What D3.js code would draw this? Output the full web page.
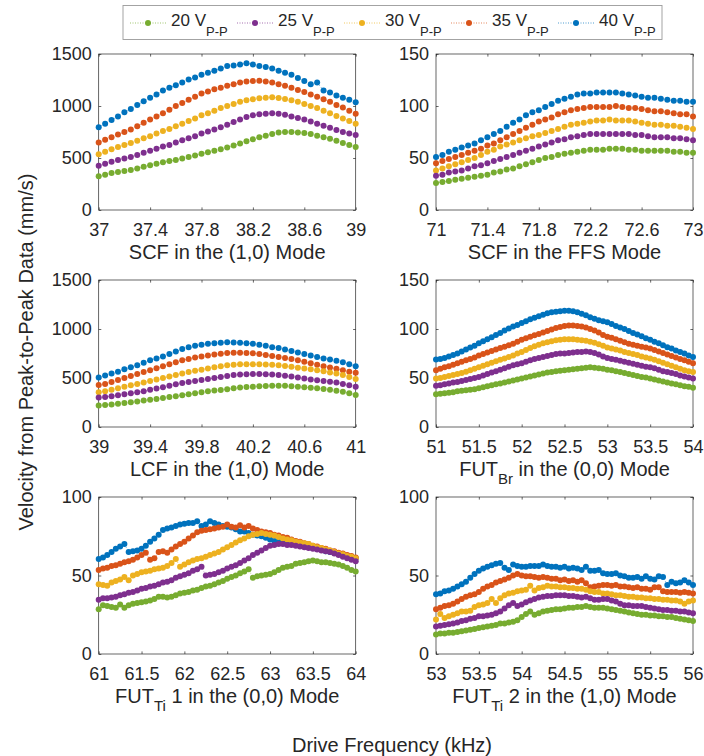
<!DOCTYPE html>
<html>
<head>
<meta charset="utf-8">
<script src="https://cdn.jsdelivr.net/npm/d3@7"></script>
<style>
  body { margin: 0; background: #fff; }
  svg { display: block; }
  text { font-family: "Liberation Sans", Arial, sans-serif; fill: #262626; }
</style>
</head>
<body>
<svg id="svg"></svg>
<script>
// drive voltages and matlab default colours (20 -> 40 Vp-p)
var voltages = ["20", "25", "30", "35", "40"];
var colors = ["#77AC30", "#7E2F8E", "#EDB120", "#D95319", "#0072BD"];

// SCF in the (1,0) mode, 37 -> 39 kHz, 0.05 kHz steps
var scf10_20 = [325, 340, 355, 365, 375, 385, 400, 415, 430, 445, 460, 470, 480, 495, 510, 525, 540, 555, 570, 585, 600, 620, 640, 660, 680, 700, 715, 730, 745, 750, 750, 745, 740, 730, 715, 700, 685, 665, 645, 625, 605];
var scf10_25 = [425, 445, 465, 480, 495, 510, 530, 550, 570, 590, 610, 625, 650, 670, 690, 710, 735, 755, 775, 795, 820, 845, 870, 895, 910, 920, 925, 930, 925, 915, 900, 885, 870, 850, 830, 810, 790, 770, 750, 735, 720];
var scf10_30 = [535, 560, 585, 605, 625, 645, 665, 690, 710, 735, 760, 780, 805, 830, 855, 880, 910, 930, 955, 980, 1000, 1020, 1040, 1055, 1065, 1075, 1080, 1085, 1078, 1068, 1055, 1040, 1020, 1000, 980, 955, 930, 905, 880, 855, 830];
var scf10_35 = [650, 675, 700, 725, 750, 775, 805, 840, 870, 900, 930, 965, 1000, 1030, 1060, 1090, 1120, 1140, 1160, 1175, 1195, 1210, 1225, 1235, 1240, 1242, 1235, 1225, 1210, 1195, 1175, 1155, 1135, 1110, 1090, 1065, 1040, 1010, 985, 955, 925];
var scf10_40 = [795, 830, 865, 900, 940, 970, 1010, 1045, 1080, 1110, 1150, 1175, 1200, 1225, 1255, 1275, 1300, 1320, 1340, 1360, 1385, 1390, 1400, 1410, 1400, 1385, 1375, 1360, 1340, 1320, 1300, 1270, 1240, 1210, 1225, 1150, 1130, 1100, 1080, 1060, 1035];

// SCF in the FFS mode, 71 -> 73 kHz
var ffs_20 = [26, 27, 28, 29, 30, 31, 32, 33, 34, 36, 37, 39, 40, 42, 44, 46, 48, 50, 51, 53, 54, 55, 56, 57, 58, 58, 58, 59, 59, 59, 58, 58, 57, 57, 57, 57, 57, 56, 56, 55, 55];
var ffs_25 = [33, 34, 36, 37, 38, 40, 42, 43, 45, 47, 49, 51, 53, 55, 57, 59, 61, 63, 65, 67, 68, 70, 71, 72, 73, 73, 73, 73, 73, 73, 73, 72, 72, 71, 70, 70, 70, 69, 69, 68, 67];
var ffs_30 = [38, 40, 42, 44, 46, 48, 50, 53, 56, 58, 61, 63, 65, 67, 69, 71, 72, 74, 76, 78, 80, 82, 83, 84, 85, 86, 86, 87, 86, 86, 86, 85, 84, 83, 82, 82, 81, 81, 80, 79, 78];
var ffs_35 = [45, 47, 49, 51, 53, 55, 57, 59, 62, 64, 67, 70, 73, 76, 79, 82, 85, 87, 89, 92, 94, 96, 97, 98, 99, 99, 99, 99, 100, 99, 98, 98, 97, 96, 95, 95, 94, 93, 92, 92, 90];
var ffs_40 = [51, 53, 56, 58, 60, 62, 64, 67, 70, 73, 76, 80, 84, 87, 91, 94, 96, 99, 102, 105, 107, 109, 111, 112, 112, 113, 113, 113, 113, 112, 111, 110, 109, 108, 108, 107, 106, 105, 105, 104, 104];

// LCF in the (1,0) mode, 39 -> 41 kHz
var lcf_20 = [219, 225, 230, 238, 245, 252, 260, 270, 278, 286, 295, 305, 315, 325, 335, 345, 355, 365, 372, 377, 385, 395, 402, 408, 411, 415, 418, 420, 421, 420, 416, 410, 405, 401, 395, 388, 380, 371, 360, 345, 327];
var lcf_25 = [300, 305, 315, 325, 335, 345, 355, 365, 380, 394, 405, 420, 435, 450, 460, 470, 480, 489, 500, 510, 520, 530, 535, 539, 540, 540, 538, 536, 530, 522, 515, 505, 495, 485, 478, 470, 462, 455, 440, 425, 411];
var lcf_30 = [354, 365, 380, 395, 410, 425, 440, 455, 470, 485, 500, 515, 530, 545, 560, 575, 585, 597, 610, 620, 630, 636, 640, 640, 640, 640, 638, 635, 630, 622, 615, 605, 597, 590, 580, 568, 556, 546, 530, 510, 489];
var lcf_35 = [428, 440, 460, 480, 500, 520, 540, 560, 580, 600, 620, 640, 660, 680, 695, 710, 720, 730, 740, 748, 755, 758, 758, 756, 752, 745, 735, 725, 715, 705, 695, 680, 665, 650, 635, 620, 607, 595, 580, 565, 553];
var lcf_40 = [505, 525, 545, 565, 590, 610, 630, 655, 680, 700, 720, 745, 770, 795, 815, 830, 840, 850, 855, 860, 866, 862, 860, 855, 850, 840, 830, 815, 805, 790, 775, 760, 745, 730, 715, 700, 690, 675, 660, 640, 620];

// FUT_Br in the (0,0) mode, 51 -> 54 kHz
var br_20 = [33.5, 34, 34.5, 35, 35.5, 36.5, 37, 37.5, 38, 38.5, 39.5, 40.5, 41.5, 42.5, 43.5, 44.5, 45.5, 46.5, 47.5, 48.5, 49.5, 50.5, 51.5, 52.5, 53.5, 54.5, 55.5, 56, 57, 57.5, 58, 58.5, 59, 59.5, 60, 60.5, 61, 60.5, 60, 59.5, 58.5, 58, 57, 56, 55, 54, 53, 52, 51, 50.5, 49.5, 48.5, 47.5, 46.5, 45.5, 44.5, 43.5, 42.5, 41.5, 41, 40];
var br_25 = [42, 42.5, 43.5, 44.5, 45.5, 46, 47, 48, 49, 50, 51, 52.5, 54, 55.5, 57, 58.5, 60, 61.5, 63, 64, 65, 66.5, 68, 69.5, 70.5, 71.5, 72.5, 73.5, 74.5, 75, 75, 75.5, 76, 76.5, 76.5, 77, 76.5, 75.5, 74, 72, 70.5, 69.5, 68.5, 67.5, 66.5, 65.5, 64.5, 63.5, 62.5, 61.5, 61, 60, 58.5, 57, 56, 55, 54, 52.5, 51.5, 50.5, 49.5];
var br_30 = [49.5, 50, 51, 52, 53, 54, 55, 56.5, 58, 59.5, 61, 62.5, 64, 65.5, 67, 68.5, 70, 71.5, 73, 75, 76.5, 78.5, 80.5, 82.5, 84, 85.5, 86.5, 87.5, 88.5, 89, 89.5, 89.5, 89.5, 89, 88.5, 88, 87, 86, 84.5, 83, 81, 80, 79, 78, 76.5, 75.5, 74.5, 73.5, 72, 71, 70, 68.5, 67, 65.5, 64, 62.5, 61, 59.5, 58, 57, 56];
var br_35 = [58, 59.5, 61, 62, 63.5, 65, 66.5, 68, 69.5, 71, 73, 74.5, 76, 77.5, 79, 80.5, 82, 83.5, 85, 87, 89, 90.5, 92, 93.5, 95, 96.5, 98, 99.5, 101, 102, 103, 103.5, 103.5, 103, 102.5, 101.5, 100, 98.5, 96.5, 94, 92, 91, 89.5, 88, 86.5, 85, 84, 83, 82, 81, 80, 78.5, 77, 75.5, 74, 72.5, 71, 69.5, 68, 66.5, 65];
var br_40 = [69, 69.5, 70.5, 72, 73.5, 75, 77, 79, 81, 83, 85.5, 87.5, 89.5, 91.5, 94, 96, 98.5, 100.5, 102.5, 104, 106, 108, 110, 111.5, 113, 114.5, 116, 117, 117.5, 118, 118.5, 118.5, 118, 117, 115.5, 114, 112, 110.5, 109, 108, 107, 105, 103, 101.5, 100, 98, 96, 94.5, 92.5, 90.5, 89, 87, 85.5, 83.5, 81.5, 80, 78, 76.5, 75, 73, 71.5];

// FUT_Ti 1 in the (0,0) mode, 61 -> 64 kHz
var ti1_20 = [28.5, 31, 30.5, 30, 29.5, 31.5, 29.5, 31, 32, 32.5, 33, 33.5, 34, 35, 36.5, 36.5, 36, 36.5, 37.5, 38.5, 39, 39.5, 40.5, 41, 42, 43, 43.5, 44.5, 45.5, 46.5, 48, 49, 50, 51.5, 52.5, 54, 48.5, 49.5, 50, 50.5, 51, 52, 53.5, 55, 55.5, 56, 57.5, 58, 58.5, 59, 59.5, 59, 58.5, 58.5, 58, 57.5, 57, 56, 55, 53.5, 52.5];
var ti1_25 = [34.5, 35.5, 35.5, 36, 36.5, 37.5, 38, 39, 39.5, 40.5, 41.5, 42, 43, 43.5, 44.5, 45.5, 46, 47, 48.5, 49.5, 50.5, 51.5, 53, 54, 55.5, 50, 50.5, 51, 52, 53, 54.5, 55.5, 56.5, 58, 59.5, 61, 63, 64.5, 66, 67.5, 69, 69.5, 70, 70, 69.5, 69.5, 69, 68.5, 68, 67.5, 67, 66.5, 66, 65.5, 65, 64, 63, 62, 61, 60, 59];
var ti1_30 = [44.5, 44, 43.5, 45.5, 46.5, 47.5, 49, 47, 50, 51, 52, 52.5, 53, 54, 54.5, 55, 56, 58, 60.5, 55.5, 57, 58.5, 59.5, 60.5, 61, 62, 63, 64, 65, 66.5, 68, 69.5, 71, 72.5, 73.5, 75, 76, 76.5, 77, 76.5, 76, 75.5, 74.5, 73.5, 73, 72.5, 71.5, 71, 70.5, 70, 69, 68, 67.5, 66.5, 66, 65, 64, 63.5, 62.5, 62, 61];
var ti1_35 = [53.5, 54.5, 55, 56, 56.5, 57.5, 58.5, 59, 60, 61.5, 63, 64.5, 60, 61, 65, 65.5, 64.5, 66.5, 68.5, 70, 71.5, 73.5, 75.5, 77.5, 78.5, 79, 79.5, 80, 80.5, 81, 82.5, 81, 80.5, 82, 80.5, 81.5, 80, 79, 78, 77.5, 77, 76, 75.5, 74.5, 74, 73, 72, 71.5, 70.5, 70, 69, 68.5, 67.5, 67, 66, 65.5, 64.5, 64, 63, 62.5, 61.5];
var ti1_40 = [60.5, 61.5, 63, 65, 67, 68.5, 70, 65, 65.5, 66, 67, 69, 71.5, 73.5, 76, 79, 80, 80.5, 81.5, 82.5, 83, 83.5, 83.5, 84.5, 81.5, 82.5, 84.5, 83.5, 82.5, 81.5, 81, 80.5, 79.5, 78, 78, 77, 76, 75.5, 75, 74, 73, 72, 71.5, 71, 70.5, 70, 69.5, 69, 68.5, 68, 67.5, 67, 66.5, 65.5, 65, 64.5, 64, 63.5, 62.5, 62, 61];

// FUT_Ti 2 in the (1,0) mode, 53 -> 56 kHz
var ti2_20 = [12.5, 13, 13, 13.5, 13.5, 14, 14.5, 15, 15.5, 16, 16.5, 17, 17.5, 18, 18.5, 19.5, 19.5, 20, 20.5, 21.5, 23.5, 25.5, 27, 25, 26, 27, 27.5, 28, 28.5, 28.5, 29, 29.5, 29.5, 30, 30, 30.5, 30, 29.5, 29.5, 29.5, 29, 28.5, 28, 27.5, 27, 26.5, 26, 25.5, 25, 25, 24.5, 24.5, 24, 24, 23.5, 23.5, 23, 22.5, 22, 21.5, 21];
var ti2_25 = [17.5, 18, 18.5, 19, 19.5, 20, 21, 21.5, 22.5, 23, 24, 24, 24.5, 25, 26, 27, 29, 31, 32.5, 30.5, 31.5, 33, 34, 35, 36, 36.5, 37, 37, 37.5, 37.5, 37.5, 37, 37, 36.5, 36, 36.5, 35.5, 34.5, 34.5, 35, 35, 34, 33.5, 32, 31, 31, 30.5, 30.5, 30.5, 30, 29.5, 29, 28.5, 28, 28, 27.5, 27.5, 27, 27, 26.5, 26];
var ti2_30 = [22, 25.5, 23, 24, 25, 26, 27, 27, 27.5, 30, 31, 31.5, 32.5, 35, 32.5, 35.5, 37.5, 38.5, 39, 40, 40.5, 41, 43.5, 40.5, 42, 42.5, 43.5, 43, 43, 42.5, 42.5, 42, 42, 41.5, 41.5, 41, 40, 39.5, 39.5, 38.5, 38.5, 38, 37.5, 37.5, 37, 36.5, 36.5, 36, 36, 35.5, 35.5, 35, 35, 34.5, 34.5, 34, 34, 33.5, 32, 33.5, 34];
var ti2_35 = [28.5, 29.5, 30.5, 31, 32, 33.5, 35, 36.5, 37.5, 38, 39.5, 41.5, 43, 44, 45.5, 46.5, 47.5, 48.5, 50, 51, 50, 49.5, 49.5, 49, 48.5, 49, 48.5, 48, 48, 47, 47.5, 46.5, 47, 46, 47, 45, 42.5, 43, 43.5, 44, 44, 43.5, 44, 43, 43, 42.5, 42, 42.5, 41.5, 41.5, 41, 42.5, 42.5, 40, 39.5, 39.5, 39.5, 39, 39.5, 39, 38.5];
var ti2_40 = [38, 38.5, 40, 40.5, 41.5, 43, 44.5, 46, 48.5, 51, 53, 54.5, 55.5, 56.5, 57.5, 58, 55, 53.5, 57, 56, 55.5, 55.5, 56, 56, 56, 57, 56, 55.5, 55.5, 55, 55.5, 54.5, 55, 54.5, 53.5, 55.5, 53, 53, 53.5, 51.5, 51, 51, 51.5, 50, 49.5, 48.5, 48.5, 49, 48, 49.5, 48, 47.5, 49.5, 49, 44, 46, 45, 45.5, 47, 45.5, 44];

var svg = d3.select("#svg"),
    width = 704,
    height = 756;
svg.attr("width", width).attr("height", height);

var colX = [98.7, 436],
    axW = 257,
    rowY = [[54, 210], [280, 427], [497, 654]];

// label parts: [text, isSubscript]
var panels = [
  { col: 0, row: 0, x0: 37, step: 0.05, xdom: [37, 39], ydom: [0, 1500],
    xticks: [37, 37.4, 37.8, 38.2, 38.6, 39], yticks: [0, 500, 1000, 1500],
    series: [scf10_20, scf10_25, scf10_30, scf10_35, scf10_40],
    label: [["SCF in the (1,0) Mode", 0]] },
  { col: 1, row: 0, x0: 71, step: 0.05, xdom: [71, 73], ydom: [0, 150],
    xticks: [71, 71.4, 71.8, 72.2, 72.6, 73], yticks: [0, 50, 100, 150],
    series: [ffs_20, ffs_25, ffs_30, ffs_35, ffs_40],
    label: [["SCF in the FFS Mode", 0]] },
  { col: 0, row: 1, x0: 39, step: 0.05, xdom: [39, 41], ydom: [0, 1500],
    xticks: [39, 39.4, 39.8, 40.2, 40.6, 41], yticks: [0, 500, 1000, 1500],
    series: [lcf_20, lcf_25, lcf_30, lcf_35, lcf_40],
    label: [["LCF in the (1,0) Mode", 0]] },
  { col: 1, row: 1, x0: 51, step: 0.05, xdom: [51, 54], ydom: [0, 150],
    xticks: [51, 51.5, 52, 52.5, 53, 53.5, 54], yticks: [0, 50, 100, 150],
    series: [br_20, br_25, br_30, br_35, br_40],
    label: [["FUT", 0], ["Br", 1], [" in the (0,0) Mode", 0]] },
  { col: 0, row: 2, x0: 61, step: 0.05, xdom: [61, 64], ydom: [0, 100],
    xticks: [61, 61.5, 62, 62.5, 63, 63.5, 64], yticks: [0, 50, 100],
    series: [ti1_20, ti1_25, ti1_30, ti1_35, ti1_40],
    label: [["FUT", 0], ["Ti", 1], [" 1 in the (0,0) Mode", 0]] },
  { col: 1, row: 2, x0: 53, step: 0.05, xdom: [53, 56], ydom: [0, 100],
    xticks: [53, 53.5, 54, 54.5, 55, 55.5, 56], yticks: [0, 50, 100],
    series: [ti2_20, ti2_25, ti2_30, ti2_35, ti2_40],
    label: [["FUT", 0], ["Ti", 1], [" 2 in the (1,0) Mode", 0]] }
];

var tickLen = 2.6;

function styleAxis(sel, keepText) {
  sel.select(".domain").remove();
  sel.selectAll(".tick line").attr("stroke", "#262626").attr("stroke-width", 0.7);
  if (keepText) {
    sel.selectAll(".tick text")
      .attr("fill", "#262626")
      .style("font-family", "'Liberation Sans', Arial, sans-serif")
      .style("font-size", "18px");
  } else {
    sel.selectAll(".tick text").remove();
  }
}

function addLabel(textSel, parts, big, small, shift) {
  var down = 0;
  parts.forEach(function(p) {
    var t = textSel.append("tspan").text(p[0]);
    if (p[1]) {
      t.style("font-size", small + "px").attr("dy", shift);
      down = shift;
    } else {
      t.style("font-size", big + "px");
      if (down) { t.attr("dy", -down); down = 0; }
    }
  });
}

panels.forEach(function(p) {
  var left = colX[p.col],
      top = rowY[p.row][0],
      h = rowY[p.row][1] - rowY[p.row][0];

  var x = d3.scaleLinear().domain(p.xdom).range([0, axW]);
  var y = d3.scaleLinear().domain(p.ydom).range([h, 0]);

  var g = svg.append("g").attr("transform", "translate(" + left + "," + top + ")");

  g.append("g")
      .attr("transform", "translate(0," + h + ")")
      .call(d3.axisBottom(x).tickValues(p.xticks).tickSizeInner(-tickLen).tickSizeOuter(0)
        .tickPadding(13.5).tickFormat(function(d) { return String(d); }))
      .call(styleAxis, true);
  g.append("g")
      .call(d3.axisTop(x).tickValues(p.xticks).tickSizeInner(-tickLen).tickSizeOuter(0))
      .call(styleAxis, false);
  g.append("g")
      .call(d3.axisLeft(y).tickValues(p.yticks).tickSizeInner(-tickLen).tickSizeOuter(0)
        .tickPadding(7).tickFormat(function(d) { return String(d); }))
      .call(styleAxis, true);
  g.append("g")
      .attr("transform", "translate(" + axW + ",0)")
      .call(d3.axisRight(y).tickValues(p.yticks).tickSizeInner(-tickLen).tickSizeOuter(0))
      .call(styleAxis, false);

  g.append("rect")
      .attr("width", axW)
      .attr("height", h)
      .attr("fill", "none")
      .attr("stroke", "#262626")
      .attr("stroke-width", 0.7);

  var line = d3.line()
      .x(function(d) { return x(d.f); })
      .y(function(d) { return y(d.v); });

  // 40 Vp-p drawn first, 20 Vp-p ends on top
  for (var i = p.series.length - 1; i >= 0; i--) {
    var pts = p.series[i].map(function(v, j) { return { f: p.x0 + j * p.step, v: v }; });
    g.append("path")
        .datum(pts)
        .attr("d", line)
        .attr("fill", "none")
        .attr("stroke", colors[i])
        .attr("stroke-width", 0.6)
        .attr("stroke-dasharray", "1,2");
    g.append("g")
      .selectAll("circle")
      .data(pts)
      .enter().append("circle")
        .attr("cx", function(d) { return x(d.f); })
        .attr("cy", function(d) { return y(d.v); })
        .attr("r", 3)
        .attr("fill", colors[i]);
  }

  var lab = svg.append("text")
      .attr("x", left + axW / 2)
      .attr("y", rowY[p.row][1] + 49)
      .attr("text-anchor", "middle");
  addLabel(lab, p.label, 20, 15, 8);
});

// legend
var legend = svg.append("g");
legend.append("rect")
    .attr("x", 123)
    .attr("y", 5.5)
    .attr("width", 539)
    .attr("height", 34)
    .attr("fill", "#fff")
    .attr("stroke", "#9a9a9a")
    .attr("stroke-width", 0.9);

voltages.forEach(function(v, i) {
  var cx = 148 + 107 * i;
  legend.append("line")
      .attr("x1", cx - 18).attr("x2", cx + 18)
      .attr("y1", 23).attr("y2", 23)
      .attr("stroke", colors[i])
      .attr("stroke-width", 0.7)
      .attr("stroke-dasharray", "1,1.5");
  legend.append("circle")
      .attr("cx", cx).attr("cy", 23).attr("r", 3)
      .attr("fill", colors[i]);
  var t = legend.append("text")
      .attr("x", cx + 23)
      .attr("y", 26);
  addLabel(t, [[v + " V", 0], ["P-P", 1]], 17, 13, 9.5);
});

svg.append("text")
    .attr("transform", "translate(33,352) rotate(-90)")
    .attr("text-anchor", "middle")
    .style("font-size", "20px")
    .text("Velocity from Peak-to-Peak Data (mm/s)");

svg.append("text")
    .attr("x", 392)
    .attr("y", 752)
    .attr("text-anchor", "middle")
    .style("font-size", "20px")
    .text("Drive Frequency (kHz)");
</script>
</body>
</html>
